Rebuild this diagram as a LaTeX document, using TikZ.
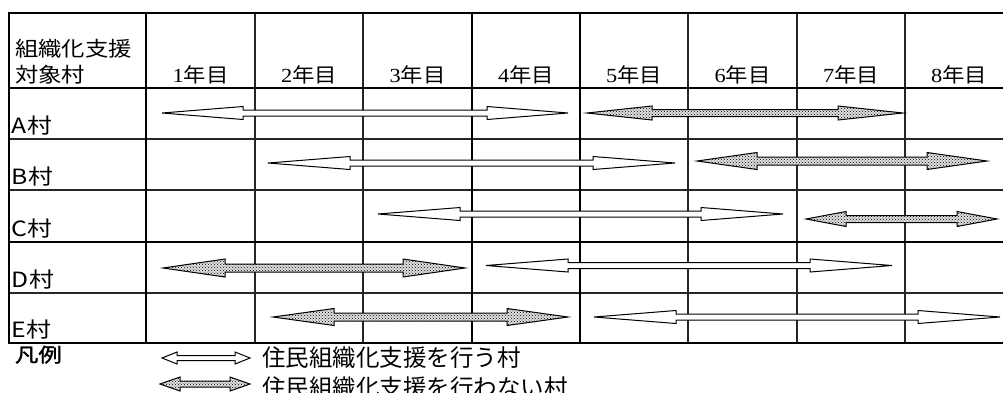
\documentclass[tikz,border=0pt]{standalone}
\usepackage{fontspec}
\setmainfont{Liberation Serif}
\newfontfamily\cjk{Noto Sans CJK JP}
\newfontfamily\cjkh[FakeStretch=1.14]{Noto Sans CJK JP}
\newfontfamily\cjky[FakeStretch=1.12]{Noto Sans CJK JP}
\newfontfamily\sery[FakeStretch=1.12]{Liberation Serif}
\newfontfamily\cjkr[FakeStretch=1.18]{Noto Sans CJK JP}
\newfontfamily\cjkb[FakeStretch=1.2,FakeBold=1.5]{Noto Sans CJK JP}
\usetikzlibrary{patterns}
\tikzset{
  thinline/.style={line width=1.2pt, black!85},
  thickline/.style={line width=2.8pt, black},
  whitearrow/.style={draw=black, line width=1pt, fill=white, line join=miter},
  dotarrow/.style={draw=black, line width=1pt, preaction={fill=black!12}, pattern=crosshatch dots, pattern color=black, line join=miter},
  txt/.style={inner sep=0pt, outer sep=0pt},
}
% x1 x2 y headlen headhalf shafthalf style
\newcommand\barrow[7]{%
  \path[#7] (#1,#3) -- ++(#4,-#5) -- ++(0,#5-#6) -- (#2-#4,#3-#6) -- ++(0,#6-#5) -- (#2,#3)
   -- ++(-#4,#5) -- ++(0,#6-#5) -- (#1+#4,#3+#6) -- ++(0,#5-#6) -- cycle;}
\newcommand\yr[1]{{\sery\fontsize{20}{24}\selectfont #1}{\cjky\fontsize{20}{24}\selectfont 年目}}
\begin{document}
\begin{tikzpicture}[x=1pt,y=-1pt]
\useasboundingbox (0,0) rectangle (1003,392);
\clip (0,0) rectangle (1003,392);
\fill[white] (0,0) rectangle (1003,392);
% grid
\foreach \yy in {139,190,293} \draw[thinline] (9,\yy) -- (1010,\yy);
\foreach \xx in {255,363,688,797,905} \draw[thinline] (\xx,13) -- (\xx,343);
\foreach \xx in {9,146,472,580} \draw[thickline] (\xx,11.6) -- (\xx,344.4);
\foreach \yy in {13,88,242,343} \draw[thickline] (7.6,\yy) -- (1010,\yy);
% header
\node[txt, anchor=base west, font=\cjkh\fontsize{20.5}{24}\selectfont] (h1) at (15,56) {組織化支援};
\node[txt, anchor=base west, font=\cjkh\fontsize{20.5}{24}\selectfont] (h2) at (15,82) {対象村};
\node[txt, anchor=base] (y1) at (200.5,82) {\yr{1}};
\node[txt, anchor=base] (y2) at (309,82) {\yr{2}};
\node[txt, anchor=base] (y3) at (417.5,82) {\yr{3}};
\node[txt, anchor=base] (y4) at (526,82) {\yr{4}};
\node[txt, anchor=base] (y5) at (634,82) {\yr{5}};
\node[txt, anchor=base] (y6) at (742.5,82) {\yr{6}};
\node[txt, anchor=base] (y7) at (851,82) {\yr{7}};
\node[txt, anchor=base] (y8) at (959,82) {\yr{8}};
% row labels
\tikzset{rowlab/.style={txt, anchor=base west, font=\cjkr\fontsize{21}{24}\selectfont}}
\node[rowlab] (ra) at (12,133) {A村};
\node[rowlab] (rb) at (12,184) {B村};
\node[rowlab] (rc) at (12,236) {C村};
\node[rowlab] (rd) at (12,287) {D村};
\node[rowlab] (re) at (12,337) {E村};
% arrows
\barrow{162}{568}{113}{81}{6.5}{3}{whitearrow}
\barrow{587}{903}{113}{65}{7}{3.5}{dotarrow}
\barrow{268}{675}{163}{82}{6.5}{3}{whitearrow}
\barrow{697}{987}{161}{60}{8.5}{4}{dotarrow}
\barrow{378}{783}{214}{82}{6.5}{3}{whitearrow}
\barrow{806}{997}{219}{40}{7.5}{3.5}{dotarrow}
\barrow{163}{465}{268}{62}{9}{4}{dotarrow}
\barrow{486}{892}{265.5}{82}{6.5}{3}{whitearrow}
\barrow{273}{568}{317}{61}{8.5}{4}{dotarrow}
\barrow{594}{1000}{317}{82}{6.5}{3}{whitearrow}
% legend
\node[txt, anchor=base west, font=\cjkb\fontsize{19.5}{24}\selectfont] (lg) at (15,362) {凡例};
\barrow{162}{250}{358}{15}{6}{2.5}{whitearrow}
\barrow{160}{250}{384}{20}{7}{3}{dotarrow}
\node[txt, anchor=base west, font=\cjk\fontsize{23.5}{28}\selectfont] (l1) at (262,366) {住民組織化支援を行う村};
\node[txt, anchor=base west, font=\cjk\fontsize{23.5}{28}\selectfont] (l2) at (262,396) {住民組織化支援を行わない村};
\end{tikzpicture}
\end{document}
